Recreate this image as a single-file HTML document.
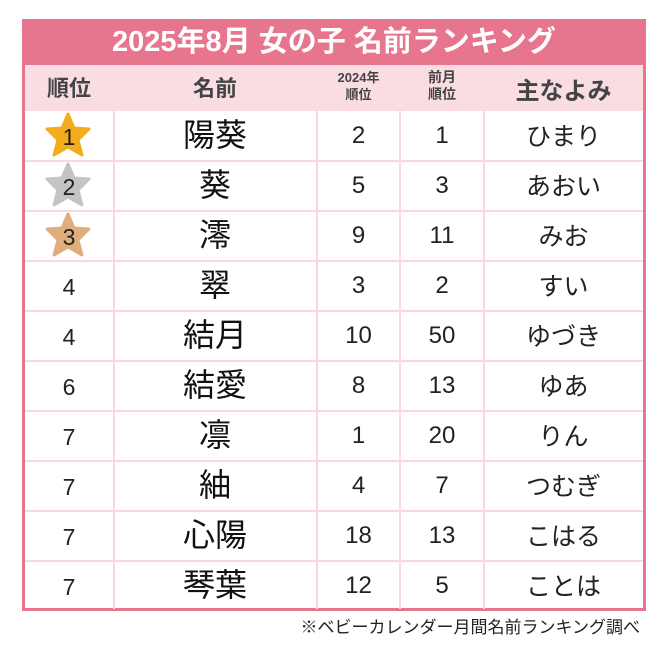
<!DOCTYPE html>
<html><head><meta charset="utf-8"><style>
body{margin:0;width:669px;height:661px;background:#fff;position:relative;font-family:"Liberation Sans","Noto Sans CJK JP",sans-serif;overflow:hidden}
.box{position:absolute;left:22px;top:20px;width:618px;height:588px;border:3px solid #e8758e;border-top:none}
.title{position:absolute;left:22px;top:19px;width:624px;height:46px;background:#e8758e;color:#fff;font-weight:bold;font-size:29px;line-height:46px;text-align:center}
.hdr{position:absolute;left:25px;top:65px;width:618px;height:46px;background:#fadde3}
.c{position:absolute;text-align:center;color:#222;line-height:30px}
.h{font-weight:bold;color:#444}
.hl{position:absolute;left:25px;width:618px;height:2px;background:#f8d9df}
.vl{position:absolute;top:111px;width:2px;height:498px;background:#f8d9df}
</style></head><body>
<div class="title">2025年8月 女の子 名前ランキング</div>
<div class="box"></div>
<div class="hdr"></div>
<div class="c h" style="left:25px;width:88px;top:74px;font-size:22px">順位</div>
<div class="c h" style="left:113px;width:204px;top:74px;font-size:22px">名前</div>
<div class="c h" style="left:317px;width:83px;top:69px;font-size:13px;line-height:17px">2024年<br>順位</div>
<div class="c h" style="left:400px;width:84px;top:69px;font-size:14px;line-height:17px">前月<br>順位</div>
<div class="c h" style="left:484px;width:159px;top:77px;font-size:24px">主なよみ</div>
<div class="vl" style="left:113px"></div><div class="vl" style="left:316px"></div><div class="vl" style="left:399px"></div><div class="vl" style="left:483px"></div>
<svg style="position:absolute;left:0;top:0" width="669" height="661">
<g>
<polygon transform="translate(68,136)" points="0,-22 6,-8 21,-7 10,4 14,19 0,11 -14,19 -10,4 -21,-7 -6,-8" fill="#f3ad1c" stroke="#f3ad1c" stroke-width="3" stroke-linejoin="round"/>
<polygon transform="translate(68,186)" points="0,-22 6,-8 21,-7 10,4 14,19 0,11 -14,19 -10,4 -21,-7 -6,-8" fill="#c4c4c6" stroke="#c4c4c6" stroke-width="3" stroke-linejoin="round"/>
<polygon transform="translate(68,236)" points="0,-22 6,-8 21,-7 10,4 14,19 0,11 -14,19 -10,4 -21,-7 -6,-8" fill="#e0ae7d" stroke="#e0ae7d" stroke-width="3" stroke-linejoin="round"/>
</g></svg>
<div id="rows"></div>
<div class="c" style="left:200px;width:440px;top:616px;font-size:17px;line-height:24px;text-align:right;color:#222">※ベビーカレンダー月間名前ランキング調べ</div>
<script>
var d=[["1","陽葵","2","1","ひまり"],["2","葵","5","3","あおい"],["3","澪","9","11","みお"],["4","翠","3","2","すい"],["4","結月","10","50","ゆづき"],["6","結愛","8","13","ゆあ"],["7","凛","1","20","りん"],["7","紬","4","7","つむぎ"],["7","心陽","18","13","こはる"],["7","琴葉","12","5","ことは"]];
var h="";
d.forEach(function(r,i){var t=111+i*50;
if(i>0)h+='<div class="hl" style="top:'+(t-1)+'px"></div>';
var ty=t+10;
h+='<div class="c" style="left:25px;width:88px;top:'+(ty+1)+'px;font-size:23px">'+r[0]+'</div>';
h+='<div class="c" style="left:113px;width:204px;top:'+(ty-4)+'px;font-size:32px;line-height:36px;color:#111">'+r[1]+'</div>';
h+='<div class="c" style="left:317px;width:83px;top:'+(ty)+'px;font-size:24px">'+r[2]+'</div>';
h+='<div class="c" style="left:400px;width:84px;top:'+(ty)+'px;font-size:24px">'+r[3]+'</div>';
h+='<div class="c" style="left:484px;width:159px;top:'+(ty+1)+'px;font-size:25px">'+r[4]+'</div>';});
document.getElementById("rows").innerHTML=h;
</script>
</body></html>
